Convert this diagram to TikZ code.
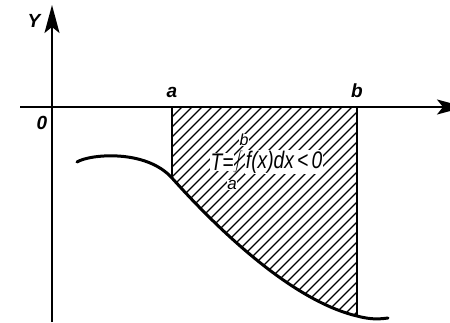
\documentclass[tikz,border=0pt]{standalone}
\usepackage{fontspec}
\setmainfont{Liberation Sans}
\usetikzlibrary{arrows.meta,positioning}
\tikzset{
    axis/.style={
        line width=1.8pt,
        -{Stealth[length=28pt,width=15pt,inset=6pt]}
    },
    curve/.style={
        line width=3pt,
        line cap=round
    },
    bound/.style={
        line width=2pt
    },
    hatch/.style={
        line width=1.4pt
    },
    lbl/.style={
        font=\fontsize{19}{22}\selectfont\bfseries\itshape,
        inner sep=0pt
    },
    formula/.style={
        font=\fontsize{24}{28}\selectfont\itshape,
        fill=white,
        inner sep=1pt
    }
}

\begin{document}
\begin{tikzpicture}[x=1pt,y=-1pt]
    \useasboundingbox (0,0) rectangle (450,322);
    % points on the axes and the curve
    \coordinate (xs) at (20,107);
    \coordinate (xe) at (465,107);
    \coordinate (ys) at (52,322);
    \coordinate (ye) at (52,5);
    \coordinate (A) at (172,107);
    \coordinate (B) at (357,107);
    \coordinate (start) at (77,162);
    \coordinate (fa) at (172,178);
    \coordinate (fb) at (357,316);
    \coordinate (end) at (388,318);

    % hatched area
    \begin{scope}
        \clip (A) -- (B) -- (fb) .. controls (290,300) and (215,226) .. (fa) -- cycle;
        \foreach \c in {172,182,...,602}
            \draw[hatch] (\c,107) -- (\c-240,347);
    \end{scope}

    % axes
    \draw[axis] (xs) -- (xe);
    \draw[axis] (ys) -- (ye);
    \node[lbl] (Y) at (34,21) {Y};
    \node[lbl] (O) at (42,123) {0};

    % bounds
    \node[lbl] (a) at (172,92) {a};
    \node[lbl] (b) at (357,91) {b};
    \draw[bound] (A) -- (fa);
    \draw[bound] (B) -- (fb);

    % curve
    \draw[curve] (start) .. controls (90,154) and (146,149) .. (fa)
        .. controls (215,226) and (290,300) .. (fb)
        .. controls (372,320) and (380,319) .. (end);

    % formula
    \node[formula, xscale=0.8, transform shape] (T) at (222,162) {T=};
    \node[formula, font=\fontsize{16}{16}\selectfont\itshape, inner sep=0.5pt] (up) at (244,140) {b};
    \node[formula, font=\fontsize{17}{17}\selectfont\itshape, inner sep=0.5pt] (lo) at (232,185) {a};
    \node[formula, anchor=west, xscale=0.8, transform shape] (fx) at (245,162) {f(x)dx\,<\,0};
    \node[inner sep=0pt, font=\fontsize{18}{18}\selectfont] (int) at (238,162) {$\displaystyle\int$};
\end{tikzpicture}
\end{document}
